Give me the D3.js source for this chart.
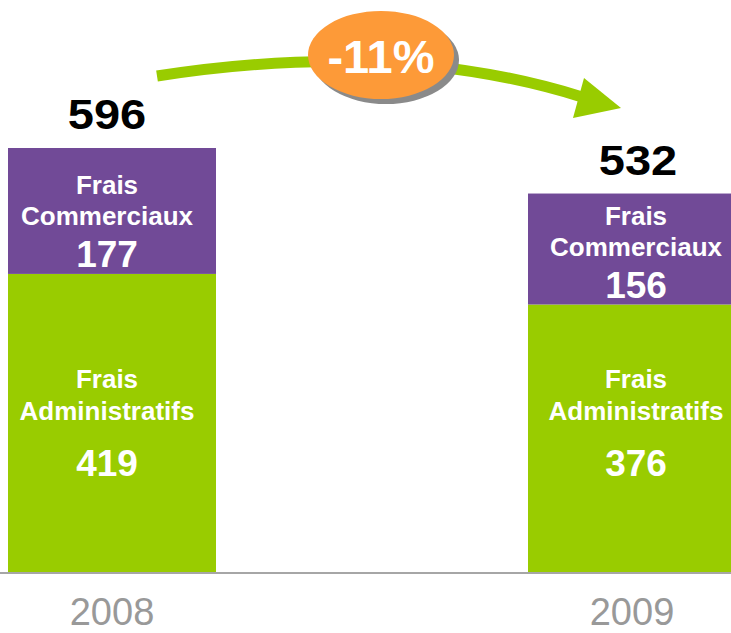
<!DOCTYPE html>
<html>
<head>
<meta charset="utf-8">
<script src="https://cdn.jsdelivr.net/npm/d3@7"></script>
<style>
  html, body { margin: 0; padding: 0; background: #fff; }
  svg { display: block; }
  text { font-family: "Liberation Sans", Arial, sans-serif; }
</style>
</head>
<body>
<svg id="chart" width="731" height="633"></svg>
<script>
// ---- data ----
const years = ["2008", "2009"];
const seriesNames = ["Frais Administratifs", "Frais Commerciaux"];
const seriesLines = [["Frais", "Administratifs"], ["Frais", "Commerciaux"]];
const administratifs = [419, 376];
const commerciaux = [177, 156];
const totals = [596, 532];
const changeLabel = "-11%";

// ---- layout ----
const W = 731, H = 633;
const baseY = 572;
const svg = d3.select("#chart");

const x = d3.scaleBand().domain(years).range([8, 736]).paddingInner(0.6).paddingOuter(0);
const y = d3.scaleLinear().domain([0, 596]).range([baseY, 148]);

const colors = ["#99cc00", "#714a97"];

const table = years.map((yr, i) => ({ year: yr, i: i, v0: administratifs[i], v1: commerciaux[i], total: totals[i] }));
const stack = d3.stack().keys(["v0", "v1"])(table);

// bars
const layer = svg.selectAll("g.layer").data(stack).join("g")
  .attr("class", "layer").attr("fill", (d, i) => colors[i]);
layer.selectAll("rect").data(d => d).join("rect")
  .attr("x", d => x(d.data.year))
  .attr("width", x.bandwidth())
  .attr("y", d => y(d[1]))
  .attr("height", d => y(d[0]) - y(d[1]));

// in-bar labels, anchored from segment bottom
const labelDx = [-5, 4];
const labelOffsets = [[-184, -152, -96], [-80, -49, -7]];
stack.forEach((s, si) => {
  s.forEach(d => {
    const cx = x(d.data.year) + x.bandwidth() / 2 + labelDx[d.data.i];
    const b = y(d[0]);
    const off = labelOffsets[si];
    seriesLines[si].forEach((ln, li) => {
      svg.append("text").attr("x", cx).attr("y", b + off[li])
        .attr("text-anchor", "middle").attr("fill", "#fff")
        .attr("font-weight", "bold").attr("font-size", 26).text(ln);
    });
    svg.append("text").attr("x", cx).attr("y", b + off[2])
      .attr("text-anchor", "middle").attr("fill", "#fff")
      .attr("font-weight", "bold").attr("font-size", 37).text(d[1] - d[0]);
  });
});

// totals
const totalDx = [-5, 6];
table.forEach((d, i) => {
  svg.append("text")
    .attr("transform", `translate(${x(d.year) + x.bandwidth() / 2 + totalDx[i]},${y(d.total) - 19}) scale(1.12,1)`)
    .attr("text-anchor", "middle").attr("fill", "#000")
    .attr("font-weight", "bold").attr("font-size", 42).text(d.total);
});

// baseline
svg.append("line").attr("x1", 0).attr("x2", W).attr("y1", baseY + 1).attr("y2", baseY + 1)
  .attr("stroke", "#a6a6a6").attr("stroke-width", 2);

// year labels
const xAxis = d3.axisBottom(x).tickSize(0).tickPadding(0);
const ax = svg.append("g").attr("transform", `translate(0,${baseY})`).call(xAxis);
ax.select(".domain").remove();
ax.selectAll("text").attr("dy", 0).attr("y", 53)
  .attr("fill", "#999").attr("font-size", 38)
  .attr("font-family", "'Liberation Sans', Arial, sans-serif");

// arrow annotation
svg.append("path")
  .attr("d", "M157,76 C260,60 420,46 582,97")
  .attr("fill", "none").attr("stroke", "#99cc00").attr("stroke-width", 11);
svg.append("path")
  .attr("d", "M584,78 L621,108 L573,118 Z")
  .attr("fill", "#99cc00");

// oval badge
const ox = 381, oy = 55;
svg.append("ellipse").attr("cx", ox + 5).attr("cy", oy + 5).attr("rx", 73).attr("ry", 44).attr("fill", "#8a8a8a");
svg.append("ellipse").attr("cx", ox).attr("cy", oy).attr("rx", 73).attr("ry", 44).attr("fill", "#fd9a38");
svg.append("text").attr("x", ox).attr("y", oy + 18)
  .attr("text-anchor", "middle").attr("fill", "#fff")
  .attr("font-weight", "bold").attr("font-size", 47).text(changeLabel);
</script>
</body>
</html>
